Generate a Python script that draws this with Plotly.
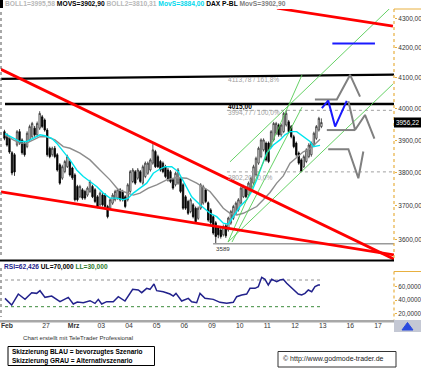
import plotly.graph_objects as go

W, H = 421, 370

# ---------------- data ----------------
# trading-day axis: Feb 26 = day 0, Feb 27 = 1, Mrz 02 = 2 ... Mrz 17 = 13 (weekends skipped)
day_tick_vals = [-0.41, 1, 2, 3, 4, 5, 6, 7, 8, 9, 10, 11, 12, 13]
day_tick_text = ["<b>Feb</b>", "27", "<b>Mrz</b>", "03", "04", "05", "06", "09",
                 "10", "11", "12", "13", "16", "17"]

BARS_PER_DAY = 11
bar_day = [-1] * 6 + [d for d in range(11) for _ in range(11)]
bar_slot = list(range(5, 11)) + list(range(11)) * 11

opens = [3927, 3917, 3907, 3861, 3855, 3885,
         3927, 3901, 3891, 3880, 3901, 3911, 3938, 3917, 3938, 3974, 3964,
         3932, 3875, 3855, 3875, 3855, 3824, 3783, 3803, 3818, 3834, 3814,
         3793, 3758, 3727, 3748, 3743, 3732, 3743, 3758, 3748, 3727, 3703,
         3732, 3732, 3698, 3693, 3708, 3718, 3723, 3748, 3743, 3727, 3718,
         3743, 3773, 3803, 3783, 3803, 3768, 3788, 3798, 3808, 3829, 3865,
         3849, 3834, 3829, 3818, 3808, 3803, 3778, 3763, 3768, 3783, 3763,
         3727, 3713, 3683, 3703, 3693, 3663, 3693, 3708, 3748, 3709, 3688,
         3668, 3650, 3635, 3629, 3615, 3641, 3629, 3649, 3663, 3678, 3688,
         3708, 3727, 3753, 3732, 3748, 3768, 3793, 3829, 3849, 3870, 3891,
         3891, 3880, 3901, 3922, 3948, 3917, 3927, 3948, 3958, 3943, 3911,
         3891, 3860, 3839, 3818, 3834, 3849, 3855, 3885, 3906, 3932, 3943]
highs = [3933, 3922, 3912, 3866, 3860, 3932,
         3935, 3906, 3896, 3928, 3949, 3958, 3945, 3959, 3992, 3980, 3969,
         3938, 3880, 3880, 3882, 3860, 3829, 3824, 3839, 3855, 3839, 3818,
         3798, 3763, 3763, 3753, 3748, 3758, 3778, 3763, 3753, 3732, 3743,
         3738, 3738, 3703, 3723, 3738, 3748, 3753, 3753, 3748, 3732, 3768,
         3808, 3814, 3808, 3814, 3808, 3824, 3834, 3834, 3844, 3888, 3870,
         3855, 3839, 3834, 3824, 3814, 3808, 3783, 3803, 3814, 3788, 3768,
         3732, 3718, 3723, 3708, 3698, 3698, 3768, 3763, 3753, 3713, 3693,
         3673, 3655, 3641, 3635, 3645, 3646, 3668, 3688, 3703, 3713, 3723,
         3758, 3763, 3758, 3773, 3788, 3824, 3849, 3880, 3906, 3906, 3896,
         3896, 3932, 3958, 3958, 3953, 3953, 3990, 3995, 3964, 3948, 3917,
         3896, 3865, 3844, 3855, 3875, 3891, 3896, 3927, 3948, 3974, 3969]
lows = [3900, 3880, 3858, 3792, 3790, 3880,
        3886, 3855, 3849, 3875, 3896, 3906, 3911, 3911, 3932, 3938, 3927,
        3849, 3844, 3849, 3844, 3803, 3763, 3778, 3798, 3814, 3788, 3778,
        3713, 3713, 3723, 3718, 3718, 3727, 3738, 3723, 3708, 3693, 3698,
        3698, 3693, 3663, 3688, 3703, 3713, 3718, 3713, 3713, 3693, 3713,
        3738, 3768, 3763, 3778, 3768, 3763, 3783, 3793, 3803, 3824, 3814,
        3814, 3803, 3798, 3783, 3773, 3768, 3748, 3758, 3763, 3738, 3688,
        3688, 3673, 3678, 3663, 3649, 3658, 3688, 3703, 3708, 3653, 3644,
        3615, 3589, 3605, 3604, 3610, 3606, 3624, 3644, 3658, 3673, 3683,
        3703, 3723, 3723, 3727, 3743, 3763, 3788, 3824, 3844, 3865, 3834,
        3829, 3875, 3896, 3917, 3911, 3911, 3922, 3943, 3922, 3906, 3875,
        3849, 3824, 3802, 3814, 3829, 3844, 3849, 3880, 3901, 3927, 3938]
closes = [3906, 3885, 3863, 3799, 3802, 3927,
          3891, 3861, 3855, 3922, 3943, 3953, 3917, 3953, 3985, 3943, 3932,
          3855, 3849, 3875, 3849, 3808, 3768, 3818, 3834, 3849, 3793, 3784,
          3718, 3718, 3758, 3723, 3723, 3753, 3773, 3727, 3713, 3698, 3738,
          3703, 3698, 3668, 3718, 3732, 3743, 3748, 3718, 3718, 3698, 3763,
          3803, 3808, 3768, 3808, 3773, 3818, 3829, 3829, 3839, 3870, 3818,
          3818, 3808, 3803, 3788, 3778, 3773, 3753, 3798, 3808, 3743, 3693,
          3693, 3678, 3718, 3668, 3653, 3693, 3763, 3758, 3713, 3658, 3650,
          3620, 3610, 3615, 3610, 3639, 3612, 3664, 3683, 3698, 3708, 3718,
          3753, 3758, 3727, 3768, 3783, 3818, 3844, 3875, 3901, 3901, 3839,
          3834, 3927, 3953, 3953, 3917, 3948, 3985, 3985, 3927, 3911, 3880,
          3855, 3829, 3803, 3849, 3870, 3885, 3891, 3922, 3943, 3969, 3956]

# short moving average (cyan, MovS=3884,00)
mov_short_x = [-0.481, -0.181, 0.061, 0.304, 0.542, 0.784, 0.965, 1.207, 1.388, 1.626,
               1.868, 2.111, 2.349, 2.591, 2.833, 3.072, 3.314, 3.556, 3.795, 3.975,
               4.156, 4.398, 4.640, 4.879, 5.060, 5.302, 5.544, 5.782, 6.024, 6.267,
               6.567, 6.809, 6.928, 7.170, 7.409, 7.589, 7.770, 8.012, 8.254, 8.435,
               8.616, 8.797, 8.977, 9.216, 9.458, 9.639, 9.820, 10.062, 10.300, 10.542,
               10.661, 10.904]
mov_short_y = [3921, 3906, 3896, 3896, 3906, 3917, 3914, 3906, 3891, 3865,
               3839, 3808, 3788, 3773, 3758, 3738, 3723, 3723, 3718, 3723,
               3738, 3753, 3768, 3798, 3808, 3818, 3818, 3803, 3763, 3727,
               3703, 3688, 3678, 3668, 3649, 3646, 3668, 3698, 3718, 3743,
               3778, 3818, 3860, 3885, 3901, 3917, 3927, 3927, 3911, 3896,
               3880, 3884]
# longer moving average (grey, MovS=3902,90)
mov_long_x = [-0.481, -0.181, 0.061, 0.304, 0.542, 0.784, 1.026, 1.326, 1.626, 1.868,
              2.230, 2.591, 2.953, 3.314, 3.614, 3.918, 4.156, 4.398, 4.698, 5.002,
              5.363, 5.725, 6.086, 6.447, 6.809, 6.928, 7.170, 7.409, 7.651, 7.893,
              8.132, 8.374, 8.616, 8.854, 9.096, 9.339, 9.577, 9.820, 10.062, 10.300,
              10.542, 10.904]
mov_long_y = [3917, 3901, 3891, 3891, 3901, 3911, 3911, 3901, 3880, 3875,
              3860, 3839, 3808, 3778, 3748, 3738, 3732, 3738, 3753, 3763,
              3778, 3785, 3783, 3768, 3748, 3743, 3718, 3693, 3678, 3673,
              3678, 3688, 3698, 3718, 3740, 3768, 3790, 3829, 3848, 3864,
              3873, 3903]

# RSI
rsi_x = [-0.481, -0.239, 0, 0.242, 0.484, 0.665, 0.784, 0.965, 1.207, 1.507,
         1.807, 1.988, 2.132, 2.349, 2.591, 2.772, 2.891, 3.014, 3.195, 3.433,
         3.614, 3.856, 4.134, 4.337, 4.460, 4.640, 4.760, 4.904, 5.002, 5.240,
         5.482, 5.602, 5.699, 5.905, 6.144, 6.267, 6.447, 6.567, 6.747, 6.928,
         7.047, 7.289, 7.532, 7.770, 7.893, 8.074, 8.254, 8.374, 8.555, 8.674,
         8.797, 8.916, 9.035, 9.158, 9.339, 9.458, 9.577, 9.700, 9.820, 10.000,
         10.119, 10.242, 10.361, 10.481, 10.604, 10.723, 10.842, 10.904]
rsi_y = [42.5, 32.5, 49, 41, 51, 50, 54, 44, 46, 37.5,
         44, 34, 37, 36, 39, 35, 41, 34, 37.5, 37.5,
         45, 38.5, 56, 55, 51, 57.5, 56, 64, 54, 52.5,
         49, 46, 50, 38.5, 42.5, 37.5, 36, 50, 42.5, 41,
         41, 36.5, 35, 36.5, 45, 47.5, 49, 57.5, 57.5, 60,
         74, 71, 62.5, 71, 67.5, 70, 71, 65, 60, 52.5,
         49, 47.5, 50, 55, 52.5, 60, 62.5, 62.4]
rsi_band_x = [-0.48, 10.904]
rsi_upper = 70
rsi_lower = 30

# price axis
price_ticks = [3600, 3700, 3800, 3900, 4000, 4100, 4200, 4300]
price_tick_text = ["3600,00", "3700,00", "3800,00", "3900,00", "4000,00", "4100,00", "4200,00", "4300,00"]
rsi_ticks = [20, 40, 60]
rsi_tick_text = ["20,0000", "40,0000", "60,0000"]
last_price_text = "3956,22"

# horizontal levels
level_4015 = 4015.00
level_4015_x = [-0.48, 13.578]
level_top_x = [-0.625, 13.578]
level_top_y = [4097, 4111]
fib_100 = 3994.77
fib_0 = 3802.20
fib_x = [7.54, 13.578]
low_3589 = 3589
low_x = [7.04, 13.578]

# trend lines (red)
trend_upper_x = [-0.661, 13.578]
trend_upper_y = [4130, 3545]
trend_lower_x = [-0.625, 13.578]
trend_lower_y = [3742, 3557]
trend_top_x = [9.35, 13.54]
trend_top_y = [4336, 4274]

# up-trend channel (green)
chan_up_x = [7.651, 13.433]
chan_up_y = [3833, 4336]
chan_low_x = [7.579, 13.54]
chan_low_y = [3594, 4080]
steep1_x = [7.579, 10.253]
steep1_y = [3594, 4110]
steep2_x = [7.723, 10.253]
steep2_y = [3594, 4005]

# scenario sketches
blue_flat_x = [11.35, 12.89]
blue_flat_y = [4215, 4215]
blue_zig_x = [10.97, 11.20, 11.45, 11.87]
blue_zig_y = [4002, 4026, 3943, 4025]
grey_a_x = [10.72, 11.51, 11.99, 12.35]
grey_a_y = [4030, 4030, 4110, 4039]
grey_b_flat_x = [11.15, 12.17]
grey_b_flat_y = [3932, 3932]
grey_b_x = [11.93, 12.17, 12.53, 12.87]
grey_b_y = [4024, 3932, 3980, 3905]
grey_c_x = [11.20, 11.93, 12.29, 12.47]
grey_c_y = [3872, 3872, 3783, 3865]

# ---------------- figure ----------------
bar_x = [d + (s + 0.5) / BARS_PER_DAY for d, s in zip(bar_day, bar_slot)]


def pxx(v):
    return v / W


def pxy(v):
    return 1 - v / H


X_RANGE = [-0.625, 13.578]
fig = go.Figure()


def line(x, y, color, width, dash=None, xa="x", ya="y"):
    fig.add_trace(go.Scatter(x=x, y=y, mode="lines", xaxis=xa, yaxis=ya,
                             line=dict(color=color, width=width, dash=dash),
                             hoverinfo="skip", showlegend=False))


# horizontal levels (behind candles)
line(level_top_x, level_top_y, "#000000", 2.4)
line(level_4015_x, [level_4015] * 2, "#000000", 2.4)
line(fib_x, [fib_100] * 2, "#a0a0a0", 1, "dot")
line(fib_x, [fib_0] * 2, "#a0a0a0", 1, "dot")
line(low_x, [low_3589] * 2, "#9a9a9a", 1.5)

fig.add_trace(go.Candlestick(
    x=bar_x, open=opens, high=highs, low=lows, close=closes,
    increasing=dict(line=dict(color="#303030", width=0.8), fillcolor="#ffffff"),
    decreasing=dict(line=dict(color="#000000", width=0.8), fillcolor="#000000"),
    whiskerwidth=0, hoverinfo="skip", showlegend=False))

line(mov_long_x, mov_long_y, "#8c8c8c", 1.4)
line(mov_short_x, mov_short_y, "#00e5ee", 1.4)

line(chan_up_x, chan_up_y, "#55cc55", 0.9)
line(chan_low_x, chan_low_y, "#55cc55", 0.9)
line(steep1_x, steep1_y, "#55cc55", 0.9)
line(steep2_x, steep2_y, "#55cc55", 0.9)

line(trend_upper_x, trend_upper_y, "#ff0000", 2.8)
line(trend_lower_x, trend_lower_y, "#ff0000", 2.8)
line(trend_top_x, trend_top_y, "#ff0000", 2.8)

line(grey_a_x, grey_a_y, "#808080", 2)
line(grey_b_flat_x, grey_b_flat_y, "#808080", 2)
line(grey_b_x, grey_b_y, "#808080", 2)
line(grey_c_x, grey_c_y, "#808080", 2)
line(blue_flat_x, blue_flat_y, "#1a1aff", 2)
line(blue_zig_x, blue_zig_y, "#1a1aff", 2)

# RSI panel
line(rsi_band_x, [rsi_upper] * 2, "#909090", 1, "dot", "x2", "y2")
line(rsi_band_x, [rsi_lower] * 2, "#3a8a3a", 1, "dot", "x2", "y2")
line(rsi_x, rsi_y, "#22228c", 1.5, None, "x2", "y2")

FONT = "Liberation Sans, Arial, sans-serif"
ORANGE = "#e8b040"

fig.update_layout(
    width=W, height=H, margin=dict(l=0, r=0, t=0, b=0),
    paper_bgcolor="white", plot_bgcolor="rgba(0,0,0,0)",
    font=dict(family=FONT, size=7, color="#333333"),
    boxgap=0.2,
    xaxis=dict(domain=[pxx(1), pxx(394)], range=X_RANGE, anchor="y",
               showticklabels=False, showgrid=False, zeroline=False,
               rangeslider=dict(visible=False), fixedrange=True),
    yaxis=dict(domain=[pxy(260), pxy(9)], type="log", range=[3.549324, 3.63681],
               anchor="x", side="right", tickvals=price_ticks, ticktext=price_tick_text,
               ticks="outside", ticklen=2, tickcolor=ORANGE,
               tickfont=dict(size=6.5, color="#333333", family=FONT),
               showgrid=False, zeroline=False, showline=False),
    xaxis2=dict(domain=[pxx(1), pxx(394)], range=X_RANGE, anchor="y2",
                tickvals=day_tick_vals, ticktext=day_tick_text, ticks="",
                tickfont=dict(size=6.8, color="#333333", family=FONT),
                showgrid=False, zeroline=False, showline=False),
    yaxis2=dict(domain=[pxy(320), pxy(262)], range=[10.07, 96.97], anchor="x2",
                side="right", tickvals=rsi_ticks, ticktext=rsi_tick_text,
                ticks="outside", ticklen=2, tickcolor=ORANGE,
                tickfont=dict(size=6.3, color="#333333", family=FONT),
                showgrid=False, zeroline=False, showline=False),
)

shapes = []


def hline_px(x0, x1, y, color, width, dash=None):
    shapes.append(dict(type="line", xref="paper", yref="paper",
                       x0=pxx(x0), x1=pxx(x1), y0=pxy(y), y1=pxy(y),
                       line=dict(color=color, width=width, dash=dash)))


def vline_px(x, y0, y1, color, width, dash=None):
    shapes.append(dict(type="line", xref="paper", yref="paper",
                       x0=pxx(x), x1=pxx(x), y0=pxy(y0), y1=pxy(y1),
                       line=dict(color=color, width=width, dash=dash)))


def rect_px(x0, y0, x1, y1, fill=None, color=None, width=0):
    shapes.append(dict(type="rect", xref="paper", yref="paper",
                       x0=pxx(x0), x1=pxx(x1), y0=pxy(y1), y1=pxy(y0),
                       fillcolor=fill if fill else "rgba(0,0,0,0)",
                       line=dict(color=color if color else "rgba(0,0,0,0)", width=width)))


rect_px(0, 0, 3, 8, fill="#000000")
hline_px(394, 421, 9, ORANGE, 1)
vline_px(394, 9, 259, ORANGE, 1.2, "dot")
vline_px(1, 12, 258, "#707070", 1.2, "dot")
hline_px(0, 394, 260.5, "#000000", 2)
hline_px(394, 421, 271.5, ORANGE, 1)
vline_px(394, 271.5, 320, ORANGE, 1.2, "dot")
vline_px(1, 268, 317, "#707070", 1.2, "dot")
hline_px(0, 394, 321.3, "#a8a8a8", 2.5)
rect_px(394, 320, 421, 332, fill="#c4c8d4")
shapes.append(dict(type="path", xref="paper", yref="paper",
                   path="M %f,%f L %f,%f L %f,%f Z" % (pxx(402), pxy(330), pxx(407.5), pxy(322.5),
                                                       pxx(413), pxy(330)),
                   fillcolor="#2a4adf", line=dict(color="#2a4adf", width=1)))
rect_px(394, 117.5, 421, 127.5, fill="#000000")
rect_px(8, 346.5, 154.5, 365.5, color="#000000", width=1)
rect_px(278, 351.5, 396, 367, color="#333333", width=1)
fig.update_layout(shapes=shapes)

ann = []


def text(x, y, s, size=6.6, color="#333333", anchor="left", bg=None):
    ann.append(dict(x=pxx(x), y=pxy(y), xref="paper", yref="paper", text=s,
                    showarrow=False, xanchor=anchor, yanchor="middle",
                    font=dict(size=size, color=color, family=FONT),
                    bgcolor=bg, borderpad=0))


header = ("<b><span style='color:#b8b8b8'>BOLL1=3995,58</span> "
          "<span style='color:#000000'>MOVS=3902,90</span> "
          "<span style='color:#b8b8b8'>BOLL2=3810,31</span> "
          "<span style='color:#00d8ec'>MovS=3884,00</span> "
          "<span style='color:#000000'>DAX P-BL</span> "
          "<span style='color:#808080'>MovS=3902,90</span></b>")
text(4, 4.5, header, size=6.7)
text(227, 79.5, "4113,78 / 161,8%", color="#a0a0a0")
text(227, 107.3, "<b>4015,00</b>", color="#000000")
text(227, 112.6, "3994,77 / 100,0%", color="#a0a0a0")
text(227, 177, "3802,20 / 0,0%", color="#a0a0a0")
text(215, 248.5, "3589", size=6.2, color="#333333")
text(407.5, 122.5, last_price_text, size=6.4, color="#ffffff", anchor="center")
rsi_label = ("<b><span style='color:#22228c'>RSI=62,426</span> "
             "<span style='color:#000000'>UL=70,000</span> "
             "<span style='color:#2c7a2c'>LL=30,000</span></b>")
text(3, 267, rsi_label, size=6.6)
text(22, 337, "Chart erstellt mit TeleTrader Professional", size=6.1, color="#333333")
text(11, 351.8, "<b>Skizzierung BLAU = bevorzugtes Szenario</b>", size=6.5, color="#000000")
text(11, 360.6, "<b>Skizzierung GRAU = Alternativszenario</b>", size=6.5, color="#000000")
text(282, 359.3, "© http://www.godmode-trader.de", size=7, color="#222222")
fig.update_layout(annotations=ann)

fig.write_html("out.html", config={"displayModeBar": False},
               post_script="document.body.style.margin='0px';")
